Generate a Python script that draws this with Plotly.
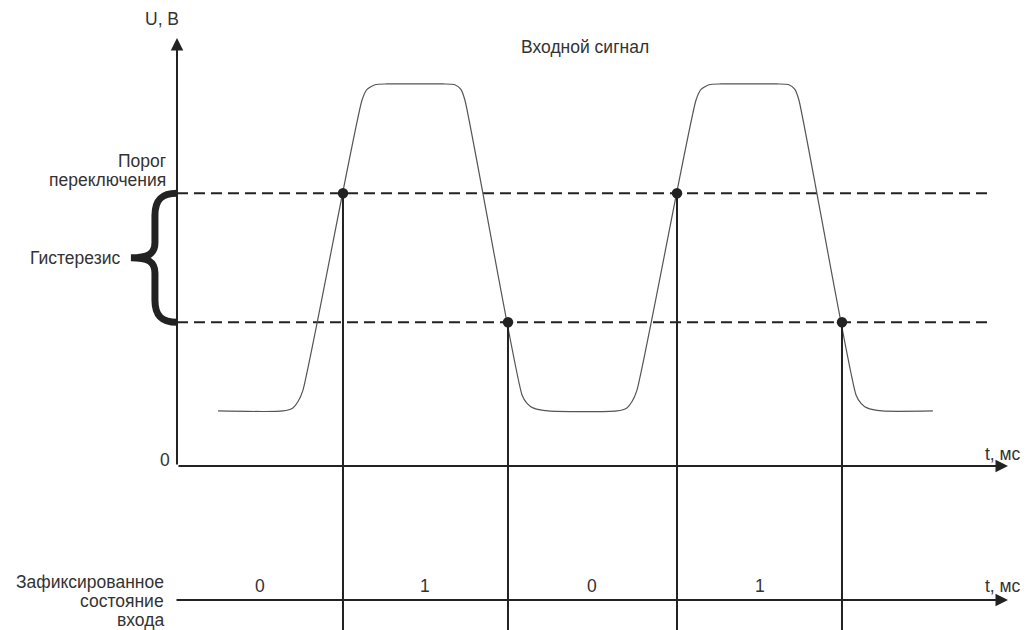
import plotly.graph_objects as go

# --- data (time in ms, voltage in V) ---
signal_t = [1.23, 3.17, 3.47, 3.62, 3.77, 5.54, 5.69, 5.93, 6.29, 7.96, 8.32, 8.50, 8.62,
            10.33, 10.48, 10.66, 11.11, 13.17, 13.47, 13.62, 13.77, 15.54, 15.69, 15.93,
            16.29, 17.96, 18.32, 18.50, 18.62, 20.33, 20.48, 20.66, 21.11, 22.63]
signal_u = [0.72, 0.72, 0.76, 0.84, 0.99, 4.79, 4.93, 4.99, 5.0, 5.0, 4.99, 4.93, 4.79,
            0.93, 0.82, 0.76, 0.72, 0.72, 0.76, 0.84, 0.99, 4.79, 4.93, 4.99,
            5.0, 5.0, 4.99, 4.93, 4.79, 0.93, 0.82, 0.76, 0.72, 0.72]

u_high = 3.57   # порог переключения
u_low = 1.88    # нижняя граница гистерезиса

switch_t = [4.97, 9.91, 14.97, 19.91]
switch_u = [u_high, u_low, u_high, u_low]
states = ["0", "1", "0", "1"]

# --- layout constants ---
X_RANGE = [-5.299, 25.449]
Y_RANGE = [-2.147, 6.099]
T_END = 24.88        # arrow tips
U_TOP = 5.6
STATE_U = -1.754     # level of the lower (state) axis
INK = "#222222"
TEXT = "#333333"
FONT = "Liberation Sans, Arial, sans-serif"
FSIZE = 17.5

fig = go.Figure()

# threshold dashed lines
for u in (u_high, u_low):
    fig.add_trace(go.Scatter(x=[0, 24.34], y=[u, u], mode="lines",
                             line=dict(color=INK, width=2, dash="11px,6px"),
                             hoverinfo="skip"))

# input signal
fig.add_trace(go.Scatter(x=signal_t, y=signal_u, mode="lines",
                         line=dict(color="#555555", width=1.2, shape="spline", smoothing=0.6),
                         hoverinfo="skip"))

# verticals from switching points down through the state axis
for t, u in zip(switch_t, switch_u):
    fig.add_trace(go.Scatter(x=[t, t], y=[u, Y_RANGE[0]], mode="lines",
                             line=dict(color=INK, width=2), hoverinfo="skip"))

fig.add_trace(go.Scatter(x=switch_t, y=switch_u, mode="markers",
                         marker=dict(color=INK, size=10.5), hoverinfo="skip"))

# hysteresis brace, built from the two thresholds
mid = (u_high + u_low) / 2
r = 0.29
xa, xt = -0.66, -1.38
brace = (f"M 0,{u_high} C {-0.45},{u_high} {xa},{u_high - 0.08} {xa},{u_high - r} "
         f"L {xa},{mid + 0.2} C {xa},{mid + 0.05} {xa - 0.2},{mid} {xt},{mid} "
         f"C {xa - 0.2},{mid} {xa},{mid - 0.05} {xa},{mid - 0.2} "
         f"L {xa},{u_low + r} C {xa},{u_low + 0.08} {-0.45},{u_low} 0,{u_low}")
fig.add_shape(type="path", path=brace, xref="x", yref="y",
              line=dict(color=INK, width=7))

annotations = []
# axes with arrows
for (x0, y0, x1, y1) in [(0, 0, 0, U_TOP), (0, 0, T_END, 0),
                         (-0.06, STATE_U, T_END, STATE_U)]:
    annotations.append(dict(x=x1, y=y1, ax=x0, ay=y0, xref="x", yref="y",
                            axref="x", ayref="y", text="", showarrow=True,
                            arrowhead=2, arrowsize=1.25, arrowwidth=2,
                            arrowcolor=INK))


def label(x, y, text, xanchor="center"):
    annotations.append(dict(x=x, y=y, xref="x", yref="y", text=text,
                            showarrow=False, xanchor=xanchor, yanchor="middle",
                            font=dict(family=FONT, size=FSIZE, color=TEXT)))


label(-0.45, 5.85, "U, В")
label(-0.15, 0.08, "0", xanchor="right")
label(24.73, 0.16, "t, мс")
label(24.73, -1.57, "t, мс")
label(12.22, 5.48, "Входной сигнал")
label(-0.27, 3.99, "Порог", xanchor="right")
label(-0.27, 3.74, "переключения", xanchor="right")
label(-1.65, mid, "Гистерезис", xanchor="right")
label(-0.33, -1.52, "Зафиксированное", xanchor="right")
label(-0.33, -1.77, "состояние", xanchor="right")
label(-0.33, -2.01, "входа", xanchor="right")

bounds = [0] + switch_t
for i, s in enumerate(states):
    label((bounds[i] + bounds[i + 1]) / 2, -1.57, s)

fig.update_layout(
    width=1027, height=630,
    margin=dict(l=0, r=0, t=0, b=0),
    paper_bgcolor="white", plot_bgcolor="white",
    showlegend=False,
    annotations=annotations,
    xaxis=dict(range=X_RANGE, visible=False, fixedrange=True),
    yaxis=dict(range=Y_RANGE, visible=False, fixedrange=True),
)

fig.write_html("out.html", config={"displayModeBar": False},
               post_script="document.body.style.margin='0px';")
